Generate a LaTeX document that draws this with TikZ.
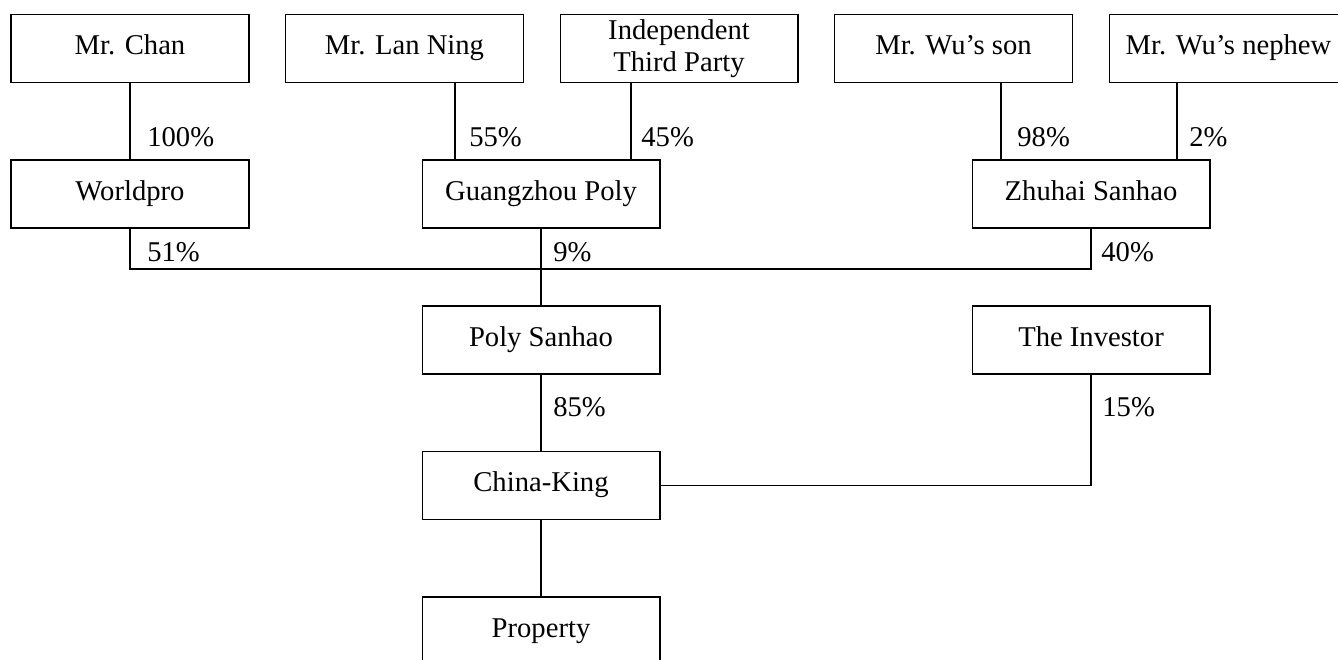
\documentclass[tikz,border=0pt]{standalone}
\usepackage{fontspec}
\setmainfont{Liberation Serif}
\usetikzlibrary{calc}

\begin{document}
\begin{tikzpicture}[x=0.02cm,y=-0.02cm,
    font=\fontsize{16.3pt}{18.2pt}\selectfont,
    box/.style={draw, line width=0.6pt, minimum width=4.76cm, minimum height=1.36cm, inner sep=0pt,
      text height=0.72em, text depth=0.02em, align=center},
    pct/.style={anchor=west, inner sep=0pt},
    link/.style={line width=0.6pt}]
            \useasboundingbox (0,0) rectangle (1338,659);

            \node[box] (chan) at (130,48.5) {Mr. Chan};
            \node[box] (lanning) at (404.5,48.5) {Mr. Lan Ning};
            \node[box, text height=, text depth=] (third) at (679,48.5) {Independent\\Third Party};
            \node[box] (wuson) at (953.5,48.5) {Mr. Wu’s son};
            \node[box] (wunephew) at (1228.5,48.5) {Mr. Wu’s nephew};

            \node[box] (worldpro) at (130,194) {Worldpro};
            \node[box] (guangzhou) at (541,194) {Guangzhou Poly};
            \node[box] (zhuhai) at (1091,194) {Zhuhai Sanhao};

            \node[box] (polysanhao) at (541,340) {Poly Sanhao};
            \node[box] (investor) at (1091,340) {The Investor};
            \node[box] (chinaking) at (541,485.5) {China-King};
            \node[box] (property) at (541,631) {Property};

            \coordinate (lanlink) at ($(guangzhou.north)+(-86,0)$);
            \coordinate (thirdlink) at ($(guangzhou.north)+(90,0)$);
            \coordinate (sonlink) at ($(zhuhai.north)+(-90,0)$);
            \coordinate (nephewlink) at ($(zhuhai.north)+(86,0)$);
            \coordinate (joint) at (541,269);

            \draw[link] (chan) -- (worldpro);
            \draw[link] (lanning.south -| lanlink) -- (lanlink);
            \draw[link] (third.south -| thirdlink) -- (thirdlink);
            \draw[link] (wuson.south -| sonlink) -- (sonlink);
            \draw[link] (wunephew.south -| nephewlink) -- (nephewlink);
            \draw[link] (worldpro.south) |- (joint) -| (zhuhai.south);
            \draw[link] (guangzhou) -- (polysanhao);
            \draw[link] (polysanhao) -- (chinaking);
            \draw[link] (investor.south) |- (chinaking.east);
            \draw[link] (chinaking) -- (property);

            \node[pct] (chanpct) at (147,137) {100\%};
            \node[pct] (lanpct) at (469,137) {55\%};
            \node[pct] (thirdpct) at (641,137) {45\%};
            \node[pct] (sonpct) at (1017,137) {98\%};
            \node[pct] (nephewpct) at (1189,137) {2\%};
            \node[pct] (worldpropct) at (147,252) {51\%};
            \node[pct] (guangzhoupct) at (553,252) {9\%};
            \node[pct] (zhuhaipct) at (1101,252) {40\%};
            \node[pct] (polypct) at (553,407) {85\%};
            \node[pct] (investorpct) at (1102,407) {15\%};
        \end{tikzpicture}
\end{document}
